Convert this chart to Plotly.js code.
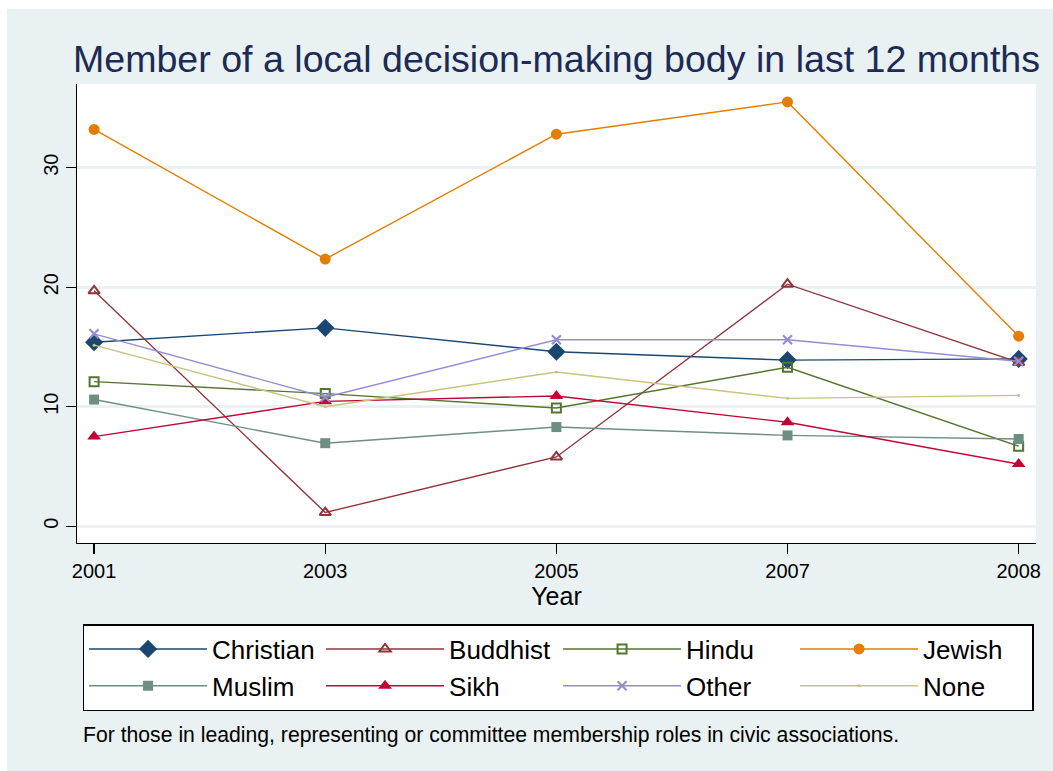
<!DOCTYPE html>
<html>
<head>
<meta charset="utf-8">
<script src="https://cdn.plot.ly/plotly-3.0.1.min.js"></script>
<style>
  html, body { margin: 0; padding: 0; background: #ffffff; }
  #chart { position: absolute; left: 7px; top: 9px; width: 1046px; height: 762px; }
</style>
</head>
<body>
<div id="chart"></div>
<script>
// ---- data ----
const years = ["2001", "2003", "2005", "2007", "2008"];
const christian = [15.4, 16.6, 14.6, 13.9, 14.0];
const buddhist  = [19.7, 1.15, 5.8, 20.25, 13.7];
const hindu     = [12.1, 11.1, 9.9, 13.3, 6.7];
const jewish    = [33.2, 22.35, 32.8, 35.5, 15.9];
const muslim    = [10.6, 6.95, 8.3, 7.6, 7.3];
const sikh      = [7.5, 10.45, 10.9, 8.7, 5.2];
const other     = [16.1, 10.8, 15.6, 15.6, 13.8];
const none      = [15.15, 10.0, 12.9, 10.7, 10.95];

const titleText = "Member of a local decision-making body in last 12 months";
const noteText = "For those in leading, representing or committee membership roles in civic associations.";
const yTicks = [0, 10, 20, 30];

const FONT = "Liberation Sans, Arial, Helvetica, sans-serif";
const BG = "#e9f1f3";

function series(name, y, color, symbol, size, lineW, mlineW, fill) {
  return {
    type: "scatter", mode: "lines+markers", name: name, x: years, y: y,
    line: { color: color, width: lineW },
    marker: { symbol: symbol, size: size, color: fill || color,
              line: { color: color, width: mlineW } }
  };
}

const traces = [
  series("Christian", christian, "#1a476f", "diamond", 14, 1.4, 0),
  series("Buddhist",  buddhist,  "#90353b", "triangle-up-open", 10, 1.4, 2),
  series("Hindu",     hindu,     "#55752f", "square-open", 9, 1.4, 2),
  series("Jewish",    jewish,    "#e37e00", "circle", 11, 1.4, 0),
  series("Muslim",    muslim,    "#6e8e84", "square", 10, 1.4, 0),
  series("Sikh",      sikh,      "#c10534", "triangle-up", 12, 1.4, 0),
  series("Other",     other,     "#938dd2", "x-thin-open", 9, 1.4, 2.2),
  series("None",      none,      "#cac27e", "circle", 3, 1.4, 0)
];

const layout = {
  width: 1046, height: 762,
  paper_bgcolor: BG,
  plot_bgcolor: "#ffffff",
  margin: { l: 70, r: 17, t: 75, b: 228, pad: 0 },
  font: { family: FONT, color: "#000000" },
  title: {
    text: titleText,
    font: { family: FONT, size: 37.6, color: "#1c2b55" },
    x: 0.5, xref: "paper", xanchor: "center",
    y: 0.935, yref: "container", yanchor: "middle"
  },
  xaxis: {
    type: "category",
    range: [-0.074, 4.075],
    showgrid: false, zeroline: false,
    showline: true, linecolor: "#000000", linewidth: 1.3,
    ticks: "outside", ticklen: 10, tickwidth: 1.3, tickcolor: "#000000",
    tickfont: { family: FONT, size: 20, color: "#000000" },
    title: { text: "Year", font: { family: FONT, size: 25, color: "#000000" }, standoff: 2 },
    automargin: false,
    fixedrange: true
  },
  yaxis: {
    range: [-1.4, 37.0],
    tickvals: yTicks,
    ticktext: yTicks.map(String),
    tickangle: -90,
    showgrid: true, gridcolor: BG, gridwidth: 3,
    zeroline: false,
    showline: true, linecolor: "#000000", linewidth: 1.3,
    ticks: "outside", ticklen: 10, tickwidth: 1.3, tickcolor: "#000000",
    tickfont: { family: FONT, size: 20, color: "#000000" },
    automargin: false,
    fixedrange: true
  },
  showlegend: true,
  legend: {
    orientation: "h",
    x: 0.006, xanchor: "left",
    y: -0.177, yanchor: "top",
    bgcolor: "#ffffff", bordercolor: "#000000", borderwidth: 1.3,
    font: { family: FONT, size: 26, color: "#000000" },
    itemwidth: 118,
    entrywidth: 104, entrywidthmode: "pixels",
    traceorder: "normal"
  },
  annotations: [{
    text: noteText, showarrow: false,
    xref: "paper", yref: "paper", x: 0.004, y: -0.419,
    xanchor: "left", yanchor: "middle",
    font: { family: FONT, size: 21.2, color: "#000000" }
  }]
};

Plotly.newPlot("chart", traces, layout, { displayModeBar: false, staticPlot: true });
</script>
</body>
</html>
